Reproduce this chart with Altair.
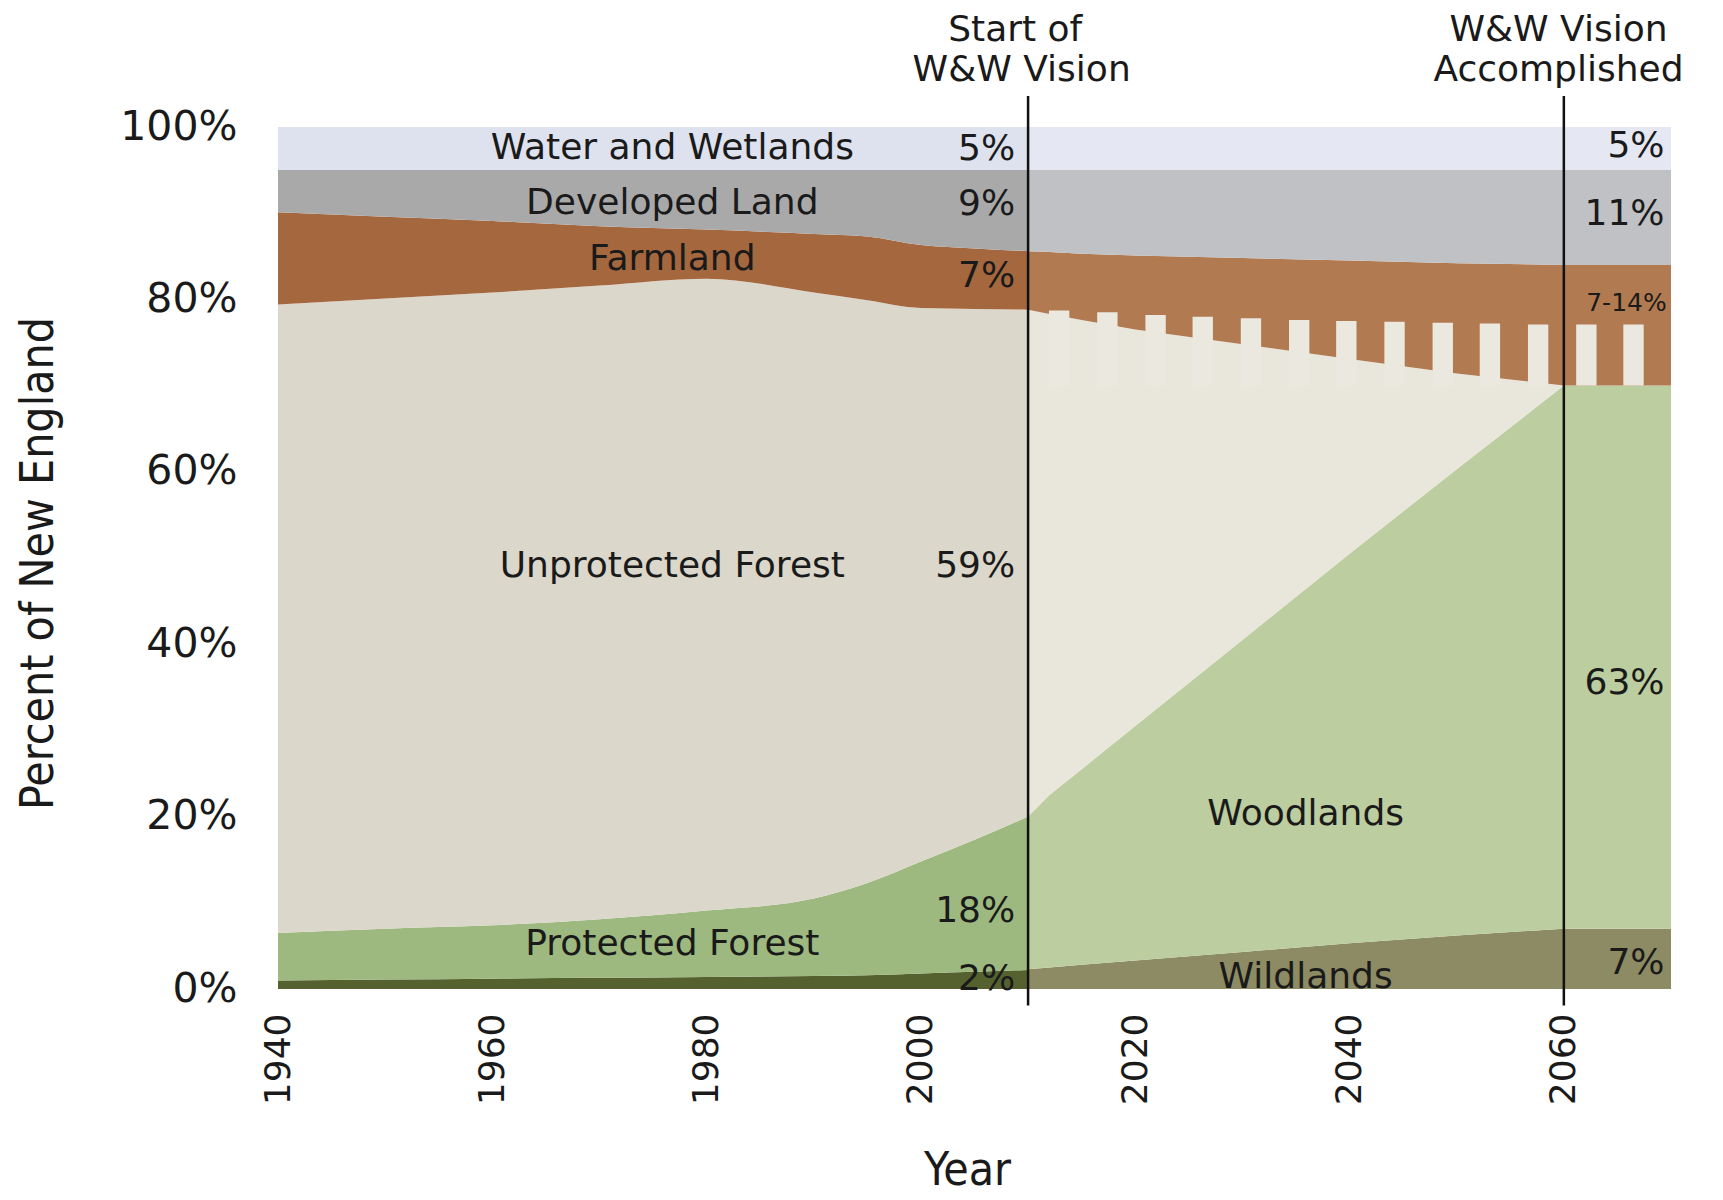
import altair as alt
import pandas as pd

# ---------------- data (percent of New England) ----------------
past_years = [1940, 1950, 1960, 1970, 1980, 1990, 1995, 2000, 2005, 2010]
past_wildlands = [1.0, 1.1, 1.2, 1.3, 1.4, 1.5, 1.6, 1.8, 2.0, 2.2]
past_protected = [5.5, 5.9, 6.2, 6.8, 7.7, 9.0, 10.7, 13.0, 15.3, 17.8]
past_unprotected = [72.9, 73.1, 73.4, 73.5, 73.3, 70.3, 67.6, 64.2, 61.6, 58.8]
past_farmland = [10.7, 9.5, 8.3, 6.9, 5.7, 6.8, 7.4, 7.3, 7.0, 6.8]
past_developed = [4.9, 5.4, 5.9, 6.5, 6.9, 7.4, 7.7, 8.7, 9.1, 9.4]
past_water = [5.0, 5.0, 5.0, 5.0, 5.0, 5.0, 5.0, 5.0, 5.0, 5.0]

future_years = [2010, 2012, 2015, 2020, 2030, 2040, 2050, 2060, 2070]
future_wildlands = [2.3, 2.5, 2.8, 3.3, 4.3, 5.3, 6.2, 7.0, 7.0]
future_woodlands = [17.7, 20.0, 22.7, 27.2, 36.2, 45.2, 54.1, 63.0, 63.0]
future_unprotected = [58.8, 55.8, 52.1, 46.0, 34.3, 22.6, 11.1, 0.0, 0.0]
future_farmland = [6.8, 7.2, 7.7, 8.6, 10.0, 11.4, 12.8, 14.0, 14.0]
future_developed = [9.4, 9.5, 9.7, 9.9, 10.2, 10.5, 10.8, 11.0, 11.0]
future_water = [5.0, 5.0, 5.0, 5.0, 5.0, 5.0, 5.0, 5.0, 5.0]

# picket fence (farmland range 7-14%)
picket_years = [2012.9, 2017.4, 2021.9, 2026.3, 2030.8, 2035.3, 2039.7,
                2044.2, 2048.7, 2053.1, 2057.6, 2062.1, 2066.5]
picket_tops = [78.7, 78.5, 78.2, 78.0, 77.8, 77.6, 77.5, 77.4, 77.3, 77.2, 77.1, 77.1, 77.1]
picket_base = 70.0
picket_half = 0.95

milestone_years = [2010, 2060]

x_ticks = [1940, 1960, 1980, 2000, 2020, 2040, 2060]
y_ticks = [0, 20, 40, 60, 80, 100]

# ---------------- colours ----------------
colors = {
    "Wildlands|past": "#55622f",
    "Protected Forest|past": "#9db97f",
    "Unprotected Forest|past": "#dbd7ca",
    "Farmland|past": "#a5673e",
    "Developed Land|past": "#a9a9aa",
    "Water and Wetlands|past": "#dde2ee",
    "Wildlands|future": "#8d8b63",
    "Woodlands|future": "#bccd9f",
    "Unprotected Forest|future": "#e9e6dc",
    "Farmland|future": "#b27a51",
    "Developed Land|future": "#bfc1c4",
    "Water and Wetlands|future": "#e5e8f3",
}
picket_color = "#ebe8df"
text_color = "#1a1a1a"


def long_table(years, series, period):
    rows = []
    for rank, (name, vals) in enumerate(series.items()):
        for yr, v in zip(years, vals):
            rows.append({"year": yr, "value": v, "key": f"{name}|{period}", "rank": rank})
    return pd.DataFrame(rows)


past_df = long_table(past_years, {
    "Wildlands": past_wildlands,
    "Protected Forest": past_protected,
    "Unprotected Forest": past_unprotected,
    "Farmland": past_farmland,
    "Developed Land": past_developed,
    "Water and Wetlands": past_water,
}, "past")

future_df = long_table(future_years, {
    "Wildlands": future_wildlands,
    "Woodlands": future_woodlands,
    "Unprotected Forest": future_unprotected,
    "Farmland": future_farmland,
    "Developed Land": future_developed,
    "Water and Wetlands": future_water,
}, "future")

picket_df = pd.DataFrame({
    "year": [p - picket_half for p in picket_years],
    "end": [p + picket_half for p in picket_years],
    "value": picket_tops,
    "base": [picket_base] * len(picket_years),
})

rule_df = pd.DataFrame({"year": milestone_years,
                        "value": [103.6, 103.6], "bottom": [-1.9, -1.9]})

title_font = "Liberation Sans Narrow, DejaVu Sans Condensed, Liberation Sans, sans-serif"
main_font = "DejaVu Sans"

x_scale = alt.Scale(domain=[1940, 2070], nice=False, zero=False)
y_scale = alt.Scale(domain=[0, 100], nice=False)
color_scale = alt.Scale(domain=list(colors.keys()), range=list(colors.values()))

x_axis = alt.Axis(values=x_ticks, format="d", labelAngle=270, labelFont=main_font,
                  labelFontSize=36, labelColor=text_color, labelPadding=24,
                  ticks=False, domain=False, grid=False, title="Year",
                  titleFont=title_font, titleFontSize=46, titleFontWeight="normal",
                  titleColor=text_color, titleX=689, titleY=181,
                  titleAlign="center", titleBaseline="middle")
y_axis = alt.Axis(values=y_ticks, labelExpr="datum.value + '%'", labelFont=main_font,
                  labelFontSize=41, labelColor=text_color, labelPadding=41,
                  ticks=False, domain=False, grid=False,
                  title="Percent of New England", titleFont=title_font, titleFontSize=46,
                  titleFontWeight="normal", titleColor=text_color, titleAngle=270,
                  titleX=-240, titleY=436, titleAlign="center", titleBaseline="middle")

X = alt.X("year:Q", scale=x_scale, axis=x_axis)


def Y(field, **kw):
    return alt.Y(field, scale=y_scale, axis=y_axis, **kw)


def area_layer(df, interp):
    return alt.Chart(df).mark_area(interpolate=interp).encode(
        x=X,
        y=Y("value:Q", stack="zero"),
        color=alt.Color("key:N", scale=color_scale, legend=None),
        order=alt.Order("rank:Q", sort="ascending"),
    )


past_area = area_layer(past_df, "monotone")
future_area = area_layer(future_df, "linear")

pickets = alt.Chart(picket_df).mark_rect(color=picket_color).encode(
    x=X, x2="end:Q", y=Y("value:Q"), y2="base:Q",
)

rules = alt.Chart(rule_df).mark_rule(color="#111111", strokeWidth=2.5).encode(
    x=X, y=Y("value:Q"), y2="bottom:Q",
)

# ---------------- labels ----------------
region_labels = pd.DataFrame({
    "label": ["Water and Wetlands", "Developed Land", "Farmland", "Unprotected Forest",
              "Protected Forest", "Woodlands", "Wildlands"],
    "year": [1976.8, 1976.8, 1976.8, 1976.8, 1976.8, 2035.9, 2035.9],
    "value": [97.6, 91.2, 84.7, 49.1, 5.2, 20.3, 1.4],
})
pct_labels = pd.DataFrame({
    "label": ["5%", "9%", "7%", "59%", "18%", "2%", "5%", "11%", "63%", "7%"],
    "year": [2008.8, 2008.8, 2008.8, 2008.8, 2008.8, 2008.8, 2069.4, 2069.4, 2069.4, 2069.4],
    "value": [97.5, 91.1, 82.7, 49.1, 9.0, 1.2, 97.8, 89.9, 35.5, 3.0],
})
range_label = pd.DataFrame({"label": ["7-14%"], "year": [2069.6], "value": [79.6]})
top_labels = pd.DataFrame({
    "label": ["Start of", "W&W Vision", "W&W Vision", "Accomplished"],
    "year": [2008.8, 2009.4, 2059.5, 2059.5],
    "value": [111.3, 106.6, 111.3, 106.6],
})


def text_layer(df, align, size):
    return alt.Chart(df).mark_text(align=align, baseline="middle", font=main_font,
                                   fontSize=size, color=text_color).encode(
        x=X, y=Y("value:Q"), text="label:N",
    )


chart = alt.layer(
    past_area,
    future_area,
    pickets,
    text_layer(region_labels, "center", 36),
    text_layer(pct_labels, "right", 36),
    text_layer(range_label, "right", 25),
    text_layer(top_labels, "center", 36),
    rules,
).properties(
    width=1393,
    height=862,
    autosize=alt.AutoSizeParams(type="none"),
    padding={"left": 270, "top": 119, "right": 40, "bottom": 212},
    background="white",
).configure_view(stroke=None)

chart.save("out.html", embed_options={"renderer": "svg", "actions": False})
